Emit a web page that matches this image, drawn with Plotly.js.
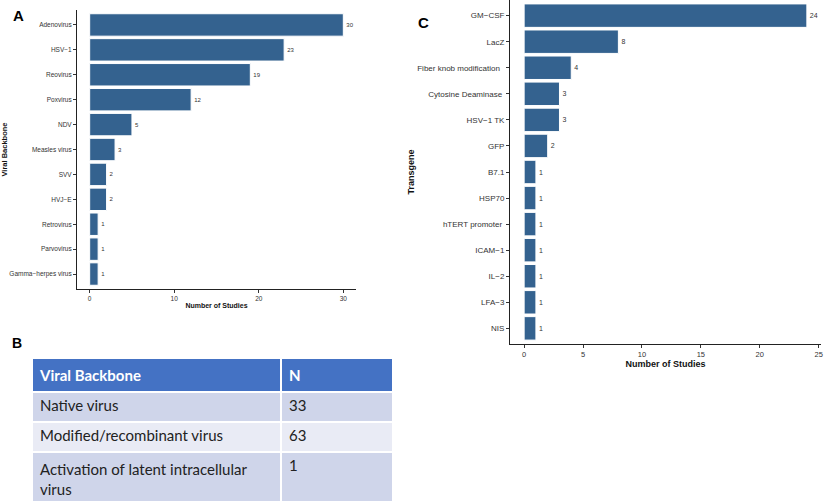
<!DOCTYPE html>
<html>
<head>
<meta charset="utf-8">
<script src="https://cdn.plot.ly/plotly-3.0.1.min.js"></script>
<style>html,body{margin:0;padding:0;background:#fff;}#chart{width:825px;height:501px;}</style>
</head>
<body>
<div id="chart"></div>
<script>
// Panel A: viral backbone
const backboneNames = ["Adenovirus", "HSV\u22121", "Reovirus", "Poxvirus", "NDV", "Measles virus", "SVV", "HVJ\u2212E", "Retrovirus", "Parvovirus", "Gamma\u2212herpes virus"];
const backboneCounts = [30, 23, 19, 12, 5, 3, 2, 2, 1, 1, 1];

// Panel C: transgene
const transgeneNames = ["GM\u2212CSF", "LacZ", "Fiber knob modification\u00a0\u00a0", "Cytosine Deaminase\u00a0", "HSV\u22121 TK", "GFP", "B7.1", "HSP70", "hTERT promoter\u00a0", "ICAM\u22121", "IL\u22122", "LFA\u22123", "NIS"];
const transgeneCounts = [24, 8, 4, 3, 3, 2, 1, 1, 1, 1, 1, 1, 1];

// Panel B: table
const tableHeader = ["Viral Backbone", "N"];
const tableTypes = ["Native virus", "Modified/recombinant virus", "Activation of latent intracellular<br>virus"];
const tableN = ["33", "63", "1"];

const barColor = "#34628F";
const W = 825, H = 501;
const font = "Liberation Sans, Arial, sans-serif";

const traces = [
  {
    type: "bar", orientation: "h",
    x: backboneCounts, y: backboneNames,
    xaxis: "x", yaxis: "y",
    width: 0.9,
    marker: {color: barColor, line: {color: "#ffffff", width: 1}},
    text: backboneCounts.map(String), textposition: "outside",
    textfont: {size: 6, color: "#333", family: font},
    cliponaxis: false, constraintext: "none",
    hoverinfo: "x+y"
  },
  {
    type: "bar", orientation: "h",
    x: transgeneCounts, y: transgeneNames,
    xaxis: "x2", yaxis: "y2",
    width: 0.9,
    marker: {color: barColor, line: {color: "#ffffff", width: 1}},
    text: transgeneCounts.map(String), textposition: "outside",
    textfont: {size: 7, color: "#333", family: font},
    cliponaxis: false, constraintext: "none",
    hoverinfo: "x+y"
  },
  {
    type: "table",
    domain: {x: [32 / W, 393 / W], y: [0, 1 - 358 / H]},
    columnwidth: [249, 112],
    header: {
      values: tableHeader.map(h => "<b>" + h + "</b>"),
      align: "left", height: 28,
      fill: {color: "#4472C4"},
      line: {color: "#ffffff", width: 2},
      font: {family: "Lato, Open Sans, sans-serif", size: 15, color: "#ffffff"}
    },
    cells: {
      values: [tableTypes, tableN],
      align: "left", height: 30,
      fill: {color: [["#CFD5EA", "#E9EBF5", "#CFD5EA"], ["#CFD5EA", "#E9EBF5", "#CFD5EA"]]},
      line: {color: "#ffffff", width: 2},
      font: {family: "Lato, Open Sans, sans-serif", size: 15, color: "#222"}
    }
  }
];

const axisCommon = {
  showgrid: false, zeroline: false, showline: true,
  linecolor: "#222", linewidth: 1,
  ticks: "outside", ticklen: 3, tickcolor: "#333", tickwidth: 1
};

const layout = {
  width: W, height: H,
  margin: {l: 0, r: 0, t: 0, b: 0},
  paper_bgcolor: "#ffffff", plot_bgcolor: "#ffffff",
  showlegend: false,
  font: {family: font, color: "#333"},
  xaxis: Object.assign({}, axisCommon, {
    domain: [77 / W, 356 / W], anchor: "y",
    range: [-1.5, 31.5], tickvals: [0, 10, 20, 30],
    tickfont: {size: 6.5, color: "#333"},
    title: {text: "<b>Number of Studies</b>", font: {size: 7, color: "#111"}, standoff: 2}
  }),
  yaxis: Object.assign({}, axisCommon, {
    domain: [1 - 289 / H, 1 - 10 / H], anchor: "x",
    type: "category", categoryorder: "array", categoryarray: backboneNames,
    range: [backboneNames.length - 0.4, -0.6],
    tickfont: {size: 6.5, color: "#333"},
    title: {text: "<b>Viral Backbone</b>", font: {size: 7.5, color: "#111"}, standoff: 1}
  }),
  xaxis2: Object.assign({}, axisCommon, {
    domain: [510 / W, 821 / W], anchor: "y2",
    range: [-1.2, 25.2], tickvals: [0, 5, 10, 15, 20, 25],
    tickfont: {size: 7.5, color: "#333"},
    title: {text: "<b>Number of Studies</b>", font: {size: 9, color: "#111"}, standoff: 1}
  }),
  yaxis2: Object.assign({}, axisCommon, {
    domain: [1 - 344 / H, 1], anchor: "x2",
    type: "category", categoryorder: "array", categoryarray: transgeneNames,
    range: [transgeneNames.length - 0.4, -0.6],
    tickfont: {size: 8, color: "#333"},
    title: {text: "<b>Transgene</b>", font: {size: 9, color: "#111"}, standoff: 1}
  }),
  annotations: [
    {text: "<b>A</b>", x: 18 / W, y: 1 - 15 / H, xref: "paper", yref: "paper", xanchor: "center", yanchor: "middle", showarrow: false, font: {size: 15, color: "#000", family: font}},
    {text: "<b>C</b>", x: 423 / W, y: 1 - 22 / H, xref: "paper", yref: "paper", xanchor: "center", yanchor: "middle", showarrow: false, font: {size: 15, color: "#000", family: font}},
    {text: "<b>B</b>", x: 17 / W, y: 1 - 343 / H, xref: "paper", yref: "paper", xanchor: "center", yanchor: "middle", showarrow: false, font: {size: 14, color: "#000", family: font}}
  ]
};

Plotly.newPlot("chart", traces, layout, {displayModeBar: false, staticPlot: true});
</script>
</body>
</html>
